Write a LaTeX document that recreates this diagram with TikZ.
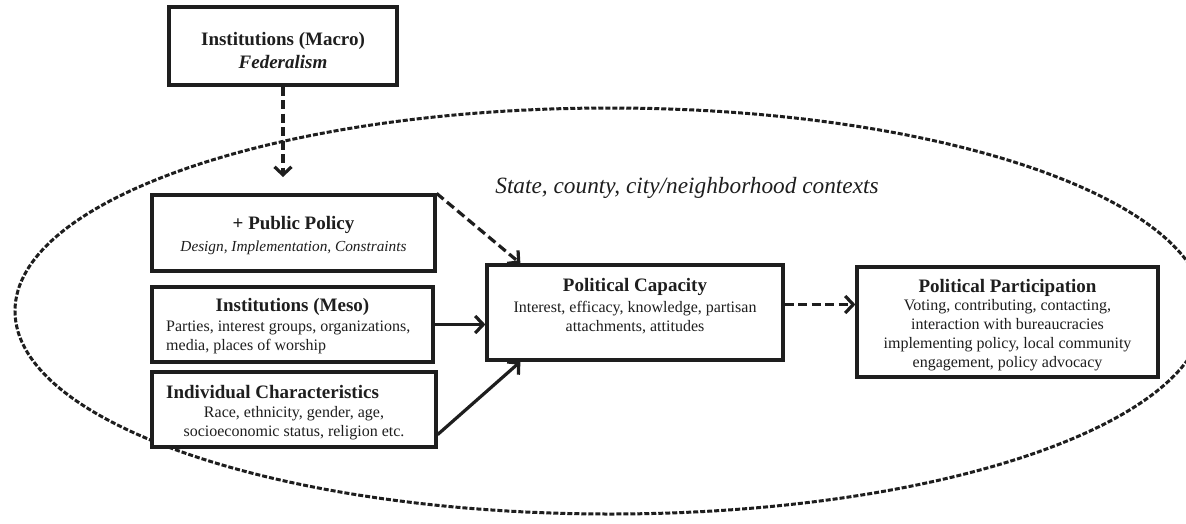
\documentclass[tikz,border=0pt]{standalone}
\usepackage{fontspec}
\setmainfont{Liberation Serif}
\usetikzlibrary{arrows.meta,calc,shapes.geometric}
\definecolor{ink}{HTML}{1E1E1E}
\begin{document}
\begin{tikzpicture}[x=1pt,y=-1pt,
  box/.style={draw=ink,line width=3.2pt,inner sep=0pt,fill=white},
  ttl/.style={font=\fontsize{19}{22}\selectfont\bfseries,text=ink,inner sep=0pt},
  sub/.style={font=\fontsize{16}{19}\selectfont,text=ink,inner sep=0pt,align=center},
  arr/.style={line width=3.2pt,draw=ink,-{Straight Barb[length=8pt,width=17pt]}},
  dsh/.style={arr,dash pattern=on 9pt off 4.5pt},
  ctxline/.style={draw=ink,line width=3pt,dash pattern=on 5pt off 2pt}]
\fill[white] (0,0) rectangle (1186,523);
\useasboundingbox (0,0) rectangle (1186,523);

% context ellipse
\node[ellipse,ctxline,minimum width=1190pt,minimum height=406pt,inner sep=0pt] (ctx) at (610,311) {};
\node[font=\fontsize{23.3}{27}\selectfont\itshape,text=ink,inner sep=0pt] (ctxlabel) at (687,188) {State, county, city/neighborhood contexts};

% boxes
\node[box,minimum width=228pt,minimum height=78pt] (macro) at (283,46) {};
\node[box,minimum width=283pt,minimum height=76pt] (pol) at (293.5,233) {};
\node[box,minimum width=281pt,minimum height=75pt] (meso) at (292.5,324.5) {};
\node[box,minimum width=284pt,minimum height=75pt] (ic) at (294,409.5) {};
\node[box,minimum width=296pt,minimum height=95pt] (cap) at (635,312.5) {};
\node[box,minimum width=301pt,minimum height=110pt] (pp) at (1007.5,322) {};

% texts
\node[ttl] (macroT) at (283,41) {Institutions (Macro)};
\node[ttl,font=\fontsize{19}{22}\selectfont\bfseries\itshape] (macroS) at (283,62) {Federalism};

\node[ttl] (polT) at (293.5,225) {+ Public Policy};
\node[sub,font=\fontsize{15.3}{18}\selectfont\itshape] (polS) at (293.5,248) {Design, Implementation, Constraints};

\node[ttl] (mesoT) at (292.5,307) {Institutions (Meso)};
\node[sub,anchor=west,align=left] (mesoS) at (166,337) {Parties, interest groups, organizations,\\media, places of worship};

\node[ttl,anchor=west] (icT) at (166,392) {Individual Characteristics};
\node[sub] (icS) at (294,423) {Race, ethnicity, gender, age,\\socioeconomic status, religion etc.};

\node[ttl] (capT) at (635,287) {Political Capacity};
\node[sub] (capS) at (635,318) {Interest, efficacy, knowledge, partisan\\attachments, attitudes};

\node[ttl] (ppT) at (1007.5,288) {Political Participation};
\node[sub] (ppS) at (1007.5,335) {Voting, contributing, contacting,\\interaction with bureaucracies\\implementing policy, local community\\engagement, policy advocacy};

% connectors
\coordinate (polIn) at (283,177);
\draw[dsh] (macro.south) -- (polIn);
\coordinate (capTop) at ($(cap.north west)+(35,0)$);
\draw[dsh] (pol.north east) -- (capTop);
\draw[arr] (meso.east) -- (meso.east -| cap.west);
\coordinate (icOut) at ($(ic.south east)+(0,-14)$);
\coordinate (capBot) at ($(cap.south west)+(35,0)$);
\draw[arr] (icOut) -- (capBot);
\coordinate (capOut) at ($(cap.east)+(0,-8)$);
\draw[dsh] (capOut) -- (capOut -| pp.west);
\end{tikzpicture}
\end{document}
